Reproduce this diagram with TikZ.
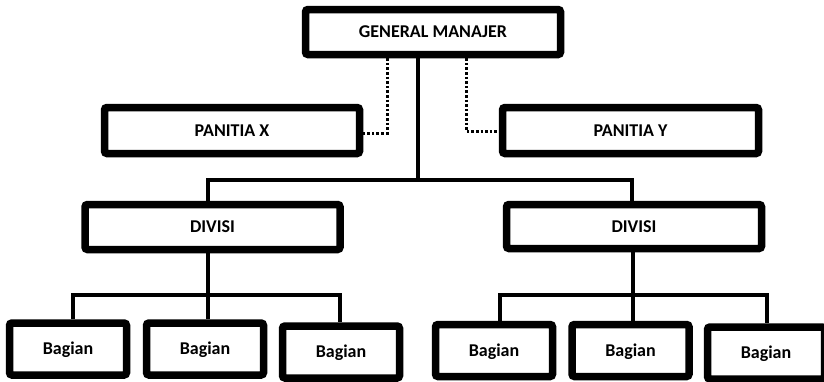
\documentclass[tikz,border=0pt]{standalone}
\usepackage{fontspec}
\setmainfont{Carlito}
\begin{document}
\begin{tikzpicture}[x=1pt,y=-1pt,
  box/.style={draw=black, line width=7.5pt, rounded corners=2.5pt, fill=white,
    font=\fontsize{18}{21}\selectfont\bfseries, text height=11.7pt, text depth=0pt,
    inner sep=0pt, minimum width=255pt, minimum height=45pt},
  smallbox/.style={box, minimum width=117pt, minimum height=52pt},
  link/.style={line width=4pt},
  dotlink/.style={line width=3pt, dash pattern=on 2.6pt off 2pt}]
\useasboundingbox (0,0) rectangle (824,381);

% junction points of the connectors
\coordinate (trunk) at (418,180);
\coordinate (dlx) at (208,180);
\coordinate (drx) at (632,180);
\coordinate (busl) at (208,295);
\coordinate (busr) at (633,295);
\coordinate (pxj) at (387,133);
\coordinate (pyj) at (466,131);

% top level
\node[box] (gm) at (433,32) {GENERAL MANAJER};
\node[box, minimum height=46pt] (px) at (232,130.5) {PANITIA X};
\node[box, minimum height=46pt, minimum width=256pt] (py) at (630.5,130.5) {PANITIA Y};

% divisions
\node[box] (dl) at (212.5,227) {DIVISI};
\node[box, minimum height=44pt] (dr) at (634,226.5) {DIVISI};

% sections
\node[smallbox] (b1) at (68,349) {Bagian};
\node[smallbox] (b2) at (205,349) {Bagian};
\node[smallbox] (b3) at (341,352) {Bagian};
\node[smallbox] (b4) at (494,350.5) {Bagian};
\node[smallbox] (b5) at (630.5,350.5) {Bagian};
\node[smallbox] (b6) at (766,353) {Bagian};

% solid lines of command
\draw[link] (gm.south -| trunk) -- (trunk);
\draw[link] (dl.north -| dlx) |- (trunk) -| (dr.north -| drx);
\draw[link] (dl.south -| busl) -- (busl);
\draw[link] (b1.north -| 73,0) |- (busl) -| (b3.north -| 340,0);
\draw[link] (busl) -- (b2.north -| busl);
\draw[link] (dr.south -| busr) -- (busr);
\draw[link] (b4.north -| 500,0) |- (busr) -| (b6.north -| 767,0);
\draw[link] (busr) -- (b5.north -| busr);

% staff (dotted) lines
\draw[dotlink] (gm.south -| pxj) -- (pxj) -- (px.east |- pxj);
\draw[dotlink] (gm.south -| pyj) -- (pyj) -- (py.west |- pyj);
\end{tikzpicture}
\end{document}
